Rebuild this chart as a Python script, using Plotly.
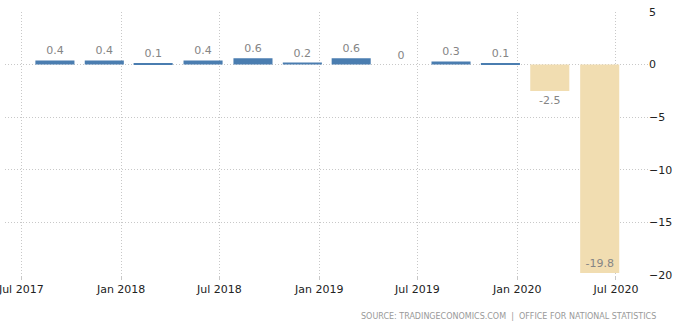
import plotly.graph_objects as go

dates = ["2017-09-01", "2017-12-01", "2018-03-01", "2018-06-01", "2018-09-01", "2018-12-01",
         "2019-03-01", "2019-06-01", "2019-09-01", "2019-12-01", "2020-03-01", "2020-06-01"]
values = [0.4, 0.4, 0.1, 0.4, 0.6, 0.2, 0.6, 0, 0.3, 0.1, -2.5, -19.8]
labels = ["0.4", "0.4", "0.1", "0.4", "0.6", "0.2", "0.6", "0", "0.3", "0.1", "-2.5", "-19.8"]

BLUE = "#4a7db0"
TAN = "#f1ddb1"
LABEL = "#858585"
colors = [BLUE if v >= 0 else TAN for v in values]
positions = ["inside" if v < -15 else "outside" for v in values]

DAY = 86400000
fig = go.Figure(go.Bar(
    x=dates, y=values, text=labels, textposition=positions,
    insidetextanchor="end",
    width=[72 * DAY] * len(values),
    marker=dict(color=colors, line=dict(width=0)),
    textfont=dict(color=LABEL, size=11, family="DejaVu Sans"),
    outsidetextfont=dict(color=LABEL, size=11, family="DejaVu Sans"),
    insidetextfont=dict(color=LABEL, size=11, family="DejaVu Sans"),
    cliponaxis=False,
    hoverinfo="skip",
))

grid = "#c8c8c8"
fig.update_layout(
    width=678, height=328,
    margin=dict(l=5, r=30, t=12, b=53),
    paper_bgcolor="white", plot_bgcolor="white",
    showlegend=False,
    font=dict(family="DejaVu Sans", size=11, color="#333333"),
    xaxis=dict(
        type="date", range=["2017-06-01", "2020-08-29"],
        tick0="2017-07-01", dtick="M6", tickformat="%b %Y",
        showgrid=True, gridcolor=grid, griddash="1px,2px", gridwidth=1,
        ticks="outside", ticklen=4, tickcolor=grid,
        ticklabeloverflow="allow", automargin=False,
        showline=False, zeroline=False,
        tickfont=dict(size=11, color="#222222"),
    ),
    yaxis=dict(
        side="right", range=[-20, 5], dtick=5, tick0=0,
        showgrid=True, gridcolor=grid, griddash="1px,2px", gridwidth=1,
        zeroline=False, showline=False, automargin=False,
        tickfont=dict(size=11, color="#222222"),
    ),
    annotations=[dict(
        text="SOURCE: TRADINGECONOMICS.COM  |  OFFICE FOR NATIONAL STATISTICS",
        xref="paper", yref="paper", x=1.016, y=-0.157, xanchor="right", yanchor="middle",
        showarrow=False, font=dict(size=8, color="#999999", family="DejaVu Sans"),
    )],
)

fig.write_html("out.html")
